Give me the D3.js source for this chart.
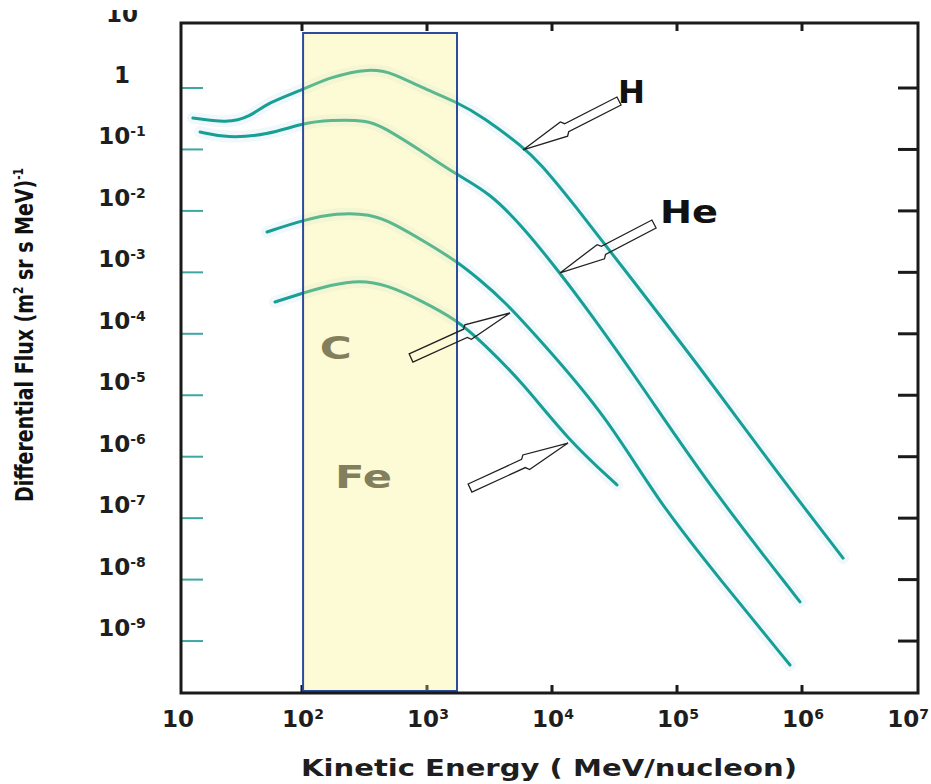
<!DOCTYPE html>
<html>
<head>
<meta charset="utf-8">
<script src="https://cdn.jsdelivr.net/npm/d3@7"></script>
<style>
  body { margin: 0; background: #fff; }
  svg { display: block; }
</style>
</head>
<body>
<div id="chart"></div>
<script>
// Tick values and their labels ([base, superscript])
const energyTicks = [10, 1e2, 1e3, 1e4, 1e5, 1e6, 1e7];
const energyTickLabels = [['10', ''], ['10', '2'], ['10', '3'], ['10', '4'], ['10', '5'], ['10', '6'], ['10', '7']];
const fluxTicks = [10, 1, 1e-1, 1e-2, 1e-3, 1e-4, 1e-5, 1e-6, 1e-7, 1e-8, 1e-9];
const fluxTickLabels = [['10', ''], ['1', ''], ['10', '-1'], ['10', '-2'], ['10', '-3'], ['10', '-4'],
  ['10', '-5'], ['10', '-6'], ['10', '-7'], ['10', '-8'], ['10', '-9']];

// Spectra (energy in MeV/nucleon, flux)
const hEnergy = [13.4, 25.1, 38.4, 52.5, 100, 168, 350, 535, 879, 1738, 2805, 5860, 8017, 14720, 39810, 174000, 586000, 2130000];
const hFlux = [0.325, 0.269, 0.337, 0.57, 0.927, 1.51, 2.11, 1.75, 1.04, 0.592, 0.337, 0.11, 0.0603, 0.0135, 9.8e-4, 2.0e-5, 6.8e-7, 2.24e-8];

const heEnergy = [15.3, 25.1, 52.5, 102, 167, 331, 445, 879, 1738, 3192, 5860, 11590, 20140, 50580, 174000, 964000];
const heFlux = [0.192, 0.153, 0.172, 0.269, 0.301, 0.301, 0.232, 0.098, 0.0384, 0.0195, 5.47e-3, 9.77e-4, 2.19e-4, 1.58e-5, 3.72e-7, 4.35e-9];

const cEnergy = [52.5, 102, 190, 350, 535, 1000, 1738, 2655, 4055, 8017, 27540, 69180, 233000, 802000];
const cFlux = [4.54e-3, 7.11e-3, 9.24e-3, 8.91e-3, 6.35e-3, 3.0e-3, 1.5e-3, 7.5e-4, 3.56e-4, 7.94e-5, 4.43e-6, 1.97e-7, 8.81e-9, 4.07e-10];

const feEnergy = [60.8, 102, 168, 291, 479, 879, 1738, 2805, 5860, 13430, 33110];
const feFlux = [3.29e-4, 4.61e-4, 6.22e-4, 7.51e-4, 6.22e-4, 3.55e-4, 1.68e-4, 7.08e-5, 1.58e-5, 1.87e-6, 3.47e-7];

// Shaded energy window
const windowEnergy = [102, 1738];
const windowFlux = [7.85, 1.4e-10];

// Annotations: label text, label anchor, arrow tip and arrow tail (energy, flux)
const labelNames = ['H', 'He', 'C', 'Fe'];
const labelAt = [[33730, 0.57], [73110, 6.35e-3], [139, 3.89e-5], [184, 3.09e-7]];
const arrowTips = [[5860, 0.098], [11590, 9.77e-4], [4613, 2.18e-4], [13430, 1.67e-6]];
const arrowTails = [[34360, 0.614], [65460, 6.12e-3], [745, 4.04e-5], [2208, 3.09e-7]];

const width = 931;
const height = 784;
const frame = { left: 181, right: 918, top: 23, bottom: 693 };
const font = 'DejaVu Sans, Arial, sans-serif';
const teal = '#179f95';

const svg = d3.select('#chart').append('svg')
  .attr('width', width)
  .attr('height', height);

svg.append('rect').attr('width', width).attr('height', height).attr('fill', '#fff');

// Log scales for both axes
const x = d3.scaleLog().domain([10, 1e7]).range([177, 927]);
const y = d3.scaleLog().domain([1e-10, 10]).range([702.5, 26.55]);

const series = [
  { energy: hEnergy, flux: hFlux },
  { energy: heEnergy, flux: heFlux },
  { energy: cEnergy, flux: cFlux },
  { energy: feEnergy, flux: feFlux },
];

const line = d3.line()
  .x((d) => x(d[0]))
  .y((d) => y(d[1]))
  .curve(d3.curveBasis);

// faint halo round each curve, like the scan
svg.append('g').selectAll('path')
  .data(series)
  .join('path')
  .attr('d', (s) => line(d3.zip(s.energy, s.flux)))
  .attr('fill', 'none')
  .attr('stroke', '#f1f8fb')
  .attr('stroke-width', 12)
  .attr('stroke-linecap', 'round');

// short teal ticks on the left edge
svg.append('g').selectAll('line')
  .data(fluxTicks.slice(1))
  .join('line')
  .attr('x1', frame.left)
  .attr('x2', frame.left + 22)
  .attr('y1', (d) => y(d))
  .attr('y2', (d) => y(d))
  .attr('stroke', '#3fa7a2')
  .attr('stroke-width', 2);

// the spectra
svg.append('g').selectAll('path')
  .data(series)
  .join('path')
  .attr('d', (s) => line(d3.zip(s.energy, s.flux)))
  .attr('fill', 'none')
  .attr('stroke', teal)
  .attr('stroke-width', 3)
  .attr('stroke-linecap', 'round');

// frame ticks on top and bottom
const axes = svg.append('g').attr('stroke', '#1a1a1a').attr('stroke-width', 3);
const innerTicks = energyTicks.filter((d) => x(d) > frame.left && x(d) < frame.right);
axes.selectAll('.tb')
  .data(innerTicks)
  .join('line')
  .attr('x1', (d) => x(d)).attr('x2', (d) => x(d))
  .attr('y1', frame.bottom).attr('y2', frame.bottom - 8);
axes.selectAll('.tt')
  .data(innerTicks)
  .join('line')
  .attr('x1', (d) => x(d)).attr('x2', (d) => x(d))
  .attr('y1', frame.top).attr('y2', frame.top + 8);

// semi transparent yellow window drawn over the curves
svg.append('rect')
  .attr('x', x(windowEnergy[0]))
  .attr('y', y(windowFlux[0]))
  .attr('width', x(windowEnergy[1]) - x(windowEnergy[0]))
  .attr('height', Math.min(y(windowFlux[1]), frame.bottom - 2) - y(windowFlux[0]))
  .attr('fill', 'rgb(250,240,120)')
  .attr('fill-opacity', 0.3)
  .attr('stroke', '#2c4c9c')
  .attr('stroke-width', 2);

const border = svg.append('g').attr('stroke', '#1a1a1a').attr('stroke-width', 3);
border.append('rect')
  .attr('x', frame.left).attr('y', frame.top)
  .attr('width', frame.right - frame.left).attr('height', frame.bottom - frame.top)
  .attr('fill', 'none');
border.selectAll('.tr')
  .data(fluxTicks.slice(1))
  .join('line')
  .attr('x1', frame.right).attr('x2', frame.right - 20)
  .attr('y1', (d) => y(d)).attr('y2', (d) => y(d));

// hollow arrows
const headLen = 46;
const headHalf = 8;
const shaftHalf = 4.5;
function arrowPoints(tip, tail) {
  const [x0, y0] = [x(tip[0]), y(tip[1])];
  const [x1, y1] = [x(tail[0]), y(tail[1])];
  const len = Math.hypot(x1 - x0, y1 - y0);
  const ux = (x1 - x0) / len, uy = (y1 - y0) / len;
  const nx = -uy, ny = ux;
  const pts = [[0, 0], [headLen, headHalf], [headLen + 3, shaftHalf], [len, shaftHalf],
    [len, -shaftHalf], [headLen + 3, -shaftHalf], [headLen, -headHalf]];
  return pts.map(([a, b]) => [x0 + ux * a + nx * b, y0 + uy * a + ny * b]);
}
svg.append('g').selectAll('path')
  .data(d3.zip(arrowTips, arrowTails))
  .join('path')
  .attr('d', ([tip, tail]) => d3.line()(arrowPoints(tip, tail)) + 'Z')
  .attr('fill', 'none')
  .attr('stroke', '#222')
  .attr('stroke-width', 1.3)
  .attr('stroke-linejoin', 'miter');

// curve labels
const labelColors = ['#111', '#111', '#837f5c', '#837f5c'];
const labelWidths = [27, 58, 32, 57];
svg.append('g').selectAll('text')
  .data(labelNames)
  .join('text')
  .attr('x', (d, i) => x(labelAt[i][0]))
  .attr('y', (d, i) => y(labelAt[i][1]))
  .attr('fill', (d, i) => labelColors[i])
  .attr('font-family', font)
  .attr('font-weight', 'bold')
  .attr('font-size', 32)
  .attr('textLength', (d, i) => labelWidths[i])
  .attr('lengthAdjust', 'spacingAndGlyphs')
  .text((d) => d);

// tick labels with superscripts
function tickLabel(sel, parts) {
  sel.append('tspan').text(parts[0]);
  if (parts[1]) {
    sel.append('tspan').attr('font-size', 14).attr('dy', -8).text(parts[1]);
  }
}

svg.append('defs').append('clipPath').attr('id', 'labelClip')
  .append('rect').attr('x', 0).attr('y', 10).attr('width', width).attr('height', height);

const yLabels = svg.append('g').attr('clip-path', 'url(#labelClip)');
fluxTicks.forEach((d, i) => {
  const t = yLabels.append('text')
    .attr('x', 122)
    .attr('y', y(d) - 5)
    .attr('text-anchor', 'middle')
    .attr('font-family', font)
    .attr('font-weight', 'bold')
    .attr('font-size', 23)
    .attr('fill', '#1e1e1e');
  tickLabel(t, fluxTickLabels[i]);
});

// the last label is pulled in so it stays inside the page
const xLabels = svg.append('g');
energyTicks.forEach((d, i) => {
  const last = i === energyTicks.length - 1;
  const t = xLabels.append('text')
    .attr('x', last ? width - 2 : x(d) + 1)
    .attr('y', 727)
    .attr('text-anchor', last ? 'end' : 'middle')
    .attr('font-family', font)
    .attr('font-weight', 'bold')
    .attr('font-size', 23)
    .attr('fill', '#1e1e1e');
  tickLabel(t, energyTickLabels[i]);
});

// axis titles
svg.append('text')
  .attr('x', 301)
  .attr('y', 776)
  .attr('font-family', font)
  .attr('font-weight', 'bold')
  .attr('font-size', 23)
  .attr('fill', '#1e1e1e')
  .attr('textLength', 496)
  .attr('lengthAdjust', 'spacingAndGlyphs')
  .text('Kinetic Energy ( MeV/nucleon)');

const yTitle = svg.append('text')
  .attr('transform', 'translate(33,502) rotate(-90)')
  .attr('font-family', font)
  .attr('font-weight', 'bold')
  .attr('font-size', 25)
  .attr('fill', '#111')
  .attr('textLength', 334)
  .attr('lengthAdjust', 'spacingAndGlyphs');
yTitle.append('tspan').text('Differential Flux (m');
yTitle.append('tspan').attr('font-size', 14).attr('dy', -10).text('2');
yTitle.append('tspan').attr('dy', 10).text(' sr s MeV)');
yTitle.append('tspan').attr('font-size', 14).attr('dy', -10).text('-1');
</script>
</body>
</html>
